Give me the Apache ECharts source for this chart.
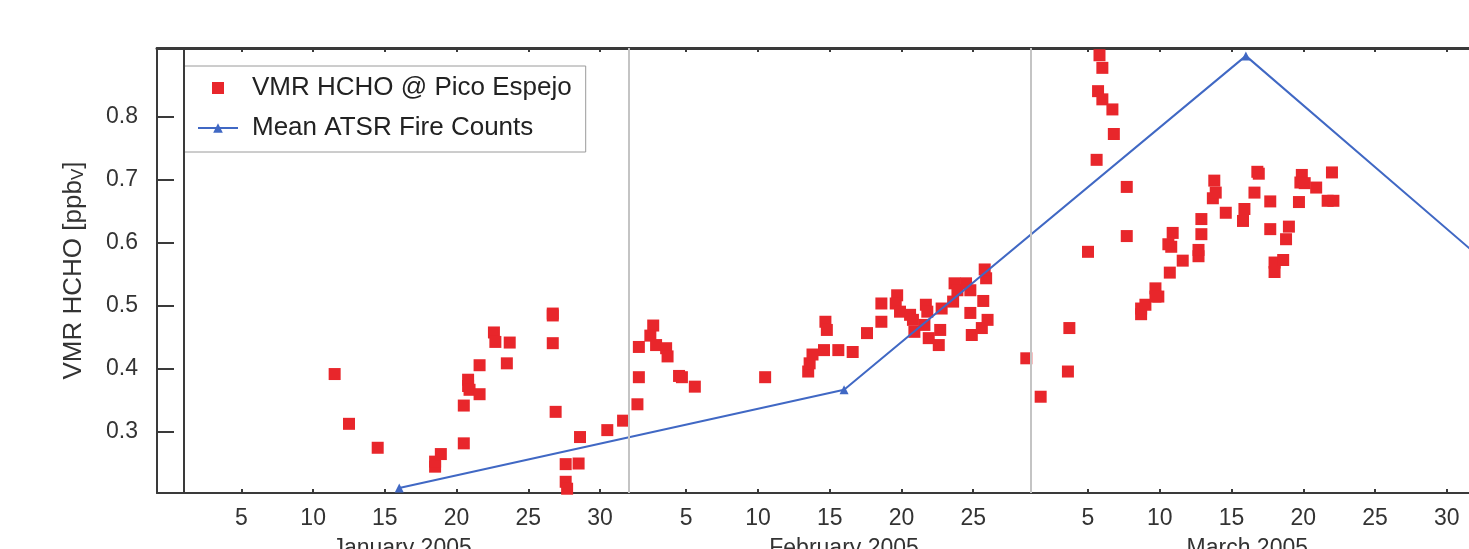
<!DOCTYPE html>
<html>
<head>
<meta charset="utf-8">
<script src="https://cdn.jsdelivr.net/npm/echarts@6/dist/echarts.min.js"></script>
<style>
  html, body { margin: 0; padding: 0; background: #fff; }
  #chart { width: 1469px; height: 549px; }
</style>
</head>
<body>
<div id="chart"></div>
<script>
// x = day of year 2005 (Jan 1 00:00 = 1, Feb 1 = 32, Mar 1 = 60)
const janDay = [11.5, 12.5, 14.5, 18.5, 18.5, 18.9, 20.5, 20.5, 20.8, 20.8, 20.9, 21.6, 21.6, 22.6, 22.7, 23.7, 23.5, 26.7, 26.7, 26.7, 26.9, 27.6, 27.6, 27.7, 28.5, 28.6, 30.5, 31.6]
const janVmr = [0.392, 0.313, 0.275, 0.245, 0.253, 0.265, 0.282, 0.342, 0.383, 0.373, 0.367, 0.360, 0.406, 0.458, 0.443, 0.442, 0.409, 0.488, 0.485, 0.441, 0.332, 0.249, 0.221, 0.210, 0.250, 0.292, 0.303, 0.318]

const febDay = [32.6, 32.7, 32.7, 33.7, 33.5, 33.9, 34.6, 34.7, 35.5, 35.7, 36.6, 41.5, 44.5, 44.6, 44.8, 45.6, 45.7, 45.8, 46.6, 47.6, 48.6, 49.6, 49.6, 50.7, 50.6, 50.9, 51.6, 51.8, 51.9, 52.7, 52.8, 52.6, 52.9, 53.6, 53.7, 53.8, 54.6, 54.7, 54.9, 55.5, 55.8, 55.8, 55.9, 56.6, 57.0, 56.7, 56.9, 56.8, 59.7]
const febVmr = [0.344, 0.387, 0.435, 0.469, 0.453, 0.438, 0.433, 0.420, 0.389, 0.387, 0.372, 0.387, 0.396, 0.409, 0.423, 0.430, 0.475, 0.462, 0.430, 0.427, 0.457, 0.475, 0.504, 0.517, 0.504, 0.491, 0.486, 0.478, 0.459, 0.502, 0.491, 0.470, 0.449, 0.438, 0.462, 0.496, 0.507, 0.536, 0.525, 0.536, 0.525, 0.489, 0.454, 0.465, 0.478, 0.508, 0.544, 0.558, 0.417]

const marDay = [60.7, 62.6, 62.7, 64.0, 64.6, 64.7, 64.8, 65.0, 65.0, 65.7, 65.8, 66.7, 66.7, 67.7, 67.7, 68.0, 68.7, 68.9, 68.7, 69.7, 70.6, 69.8, 69.9, 69.6, 71.7, 71.7, 71.9, 71.9, 72.7, 72.9, 72.8, 73.6, 74.8, 74.9, 75.6, 75.8, 75.9, 76.7, 76.7, 78.0, 77.8, 77.0, 77.6, 77.0, 78.7, 78.9, 78.8, 79.1, 79.9, 81.0, 80.7, 81.1]
const marVmr = [0.356, 0.396, 0.465, 0.586, 0.732, 0.841, 0.898, 0.878, 0.828, 0.812, 0.773, 0.689, 0.611, 0.487, 0.496, 0.502, 0.528, 0.515, 0.515, 0.553, 0.572, 0.594, 0.616, 0.598, 0.579, 0.589, 0.614, 0.638, 0.671, 0.680, 0.699, 0.648, 0.635, 0.654, 0.680, 0.713, 0.710, 0.666, 0.622, 0.626, 0.606, 0.569, 0.573, 0.554, 0.665, 0.708, 0.696, 0.695, 0.688, 0.712, 0.667, 0.667]

// monthly mean fire counts (scaled to the same axis), mid-month
const fireDay = [16, 47, 75, 106]
const fireVal = [0.211, 0.367, 0.897, 0.289]

// axis ticks
const tickDays = [5, 10, 15, 20, 25, 30, 36, 41, 46, 51, 56, 64, 69, 74, 79, 84, 89]
const tickLabels = ['5', '10', '15', '20', '25', '30', '5', '10', '15', '20', '25', '5', '10', '15', '20', '25', '30']
const monthStarts = [1, 32, 60]
const monthCenters = [16.2, 47, 75.1]
const monthNames = ['January 2005', 'February 2005', 'March 2005']
const yTicks = [0.3, 0.4, 0.5, 0.6, 0.7, 0.8]

const zip = (xs, ys) => xs.map((x, i) => [x, ys[i]])
const hcho = zip(janDay, janVmr).concat(zip(febDay, febVmr), zip(marDay, marVmr))
const fire = zip(fireDay, fireVal)

const font = 'Liberation Sans, Arial, Helvetica, sans-serif'
const axisColor = '#3a3a3a'
const xMin = -0.88
const xMax = 90.55

let myChart = echarts.init(document.getElementById('chart'), null, { renderer: 'canvas' })
myChart.setOption({
  animation: false,
  textStyle: { fontFamily: font },
  grid: { left: 157, right: 0, top: 48, bottom: 56, containLabel: false, outerBoundsMode: 'none' },
  legend: {
    orient: 'vertical',
    left: 184,
    top: 66,
    padding: [8, 14, 10, 13],
    itemWidth: 40,
    itemHeight: 12,
    itemGap: 12,
    backgroundColor: '#fff',
    borderColor: '#9a9a9a',
    borderWidth: 1,
    textStyle: { fontSize: 26, color: '#222', lineHeight: 28, padding: [0, 0, 0, 9] },
    data: [
      { name: 'VMR HCHO @ Pico Espejo', icon: 'path://M0,0 L10,0 L10,10 L0,10 Z' },
      { name: 'Mean ATSR Fire Counts' }
    ]
  },
  xAxis: [
    {
      type: 'value', min: xMin, max: xMax, position: 'bottom',
      axisLine: { onZero: false, lineStyle: { color: axisColor, width: 2 } },
      axisTick: { inside: true, length: 4, customValues: tickDays, lineStyle: { color: axisColor, width: 2 } },
      axisLabel: {
        customValues: tickDays, fontSize: 23, color: '#333', margin: 14,
        formatter: v => tickLabels[tickDays.indexOf(v)]
      },
      splitLine: { show: false }
    },
    {
      type: 'value', min: xMin, max: xMax, position: 'bottom',
      axisLine: { show: false, onZero: false },
      axisTick: { inside: true, length: 9, customValues: monthStarts, lineStyle: { color: axisColor, width: 2 } },
      axisLabel: {
        customValues: monthCenters, fontSize: 23, color: '#333', margin: 44,
        formatter: v => monthNames[monthCenters.indexOf(v)]
      },
      splitLine: { show: false }
    },
    {
      type: 'value', min: xMin, max: xMax, position: 'top',
      axisLine: { onZero: false, lineStyle: { color: axisColor, width: 3 } },
      axisTick: { inside: true, length: 4, customValues: tickDays, lineStyle: { color: axisColor, width: 2 } },
      axisLabel: { show: false },
      splitLine: { show: false }
    }
  ],
  yAxis: {
    type: 'value', min: 0.2032, max: 0.9095,
    name: 'VMR HCHO [ppb{sub|V}]',
    nameLocation: 'middle',
    nameGap: 70,
    nameTextStyle: {
      fontSize: 26, color: '#333',
      rich: { sub: { fontSize: 17, color: '#333', verticalAlign: 'bottom', padding: [10, 0, 0, 0] } }
    },
    axisLine: { onZero: false, lineStyle: { color: axisColor, width: 2 } },
    axisTick: { inside: true, length: 17, customValues: yTicks, lineStyle: { color: axisColor, width: 2 } },
    axisLabel: {
      customValues: yTicks, fontSize: 23, color: '#333', margin: 19,
      formatter: v => v.toFixed(1)
    },
    splitLine: { show: false }
  },
  series: [
    {
      name: 'VMR HCHO @ Pico Espejo',
      type: 'scatter',
      symbol: 'rect',
      symbolSize: 12,
      itemStyle: { color: '#e8262b', opacity: 1 },
      data: hcho,
      markLine: {
        silent: true,
        symbol: 'none',
        label: { show: false },
        data: [
          { xAxis: monthStarts[0], lineStyle: { color: axisColor, width: 2, type: 'solid' } },
          { xAxis: monthStarts[1], lineStyle: { color: '#c4c4c4', width: 2, type: 'solid' } },
          { xAxis: monthStarts[2], lineStyle: { color: '#c4c4c4', width: 2, type: 'solid' } }
        ]
      }
    },
    {
      name: 'Mean ATSR Fire Counts',
      type: 'line',
      symbol: 'triangle',
      symbolSize: 9,
      itemStyle: { color: '#4068c4' },
      lineStyle: { color: '#4068c4', width: 2 },
      data: fire
    }
  ]
})
</script>
</body>
</html>
